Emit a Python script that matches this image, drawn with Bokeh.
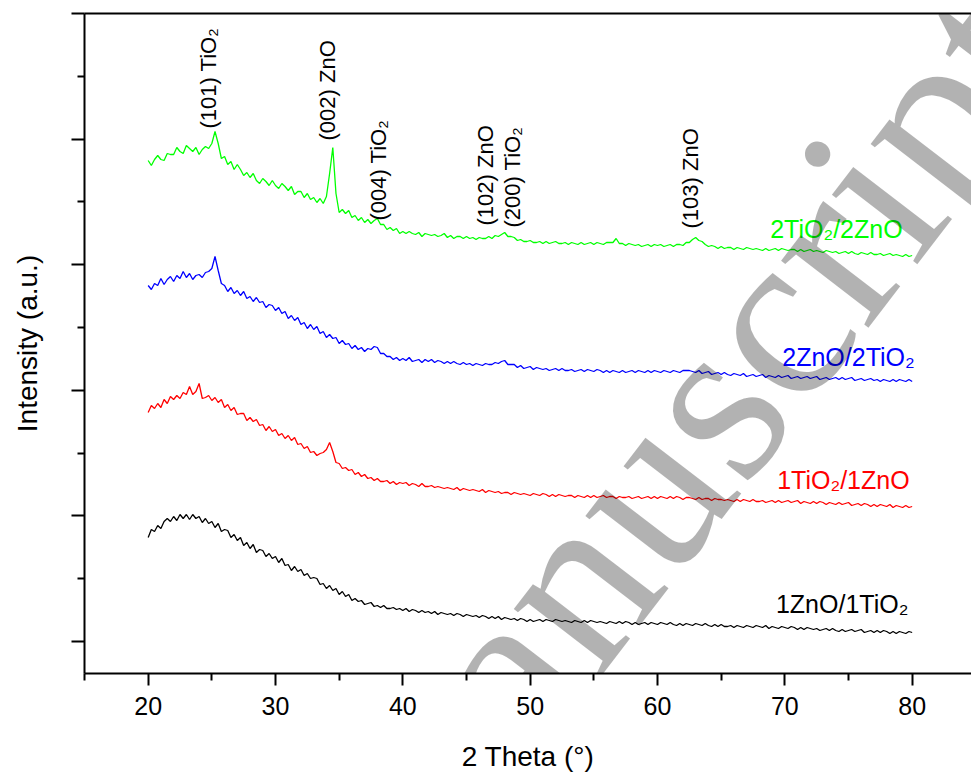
import math
from bokeh.plotting import figure
from bokeh.models import Range1d, FixedTicker, LinearAxis, Label, ColumnDataSource, CustomJSTickFormatter
from bokeh.embed import file_html
from bokeh.resources import INLINE
from bokeh.core.properties import value

# ---------------- data (arbitrary intensity units) ----------------
theta = [20 + 0.25 * i for i in range(241)]   # 2θ sampling, 20° .. 80°

green_2TiO2_2ZnO = [
    513, 508, 514, 518, 514, 513, 520, 519, 519, 526,
    522, 520, 528, 525, 522, 526, 519, 524, 527, 525,
    530, 542, 530, 515, 517, 509, 512, 504, 509, 504,
    498, 501, 496, 500, 493, 490, 495, 492, 488, 493,
    488, 485, 490, 487, 483, 487, 479, 482, 482, 476,
    480, 474, 476, 471, 475, 470, 477, 500, 526, 480,
    461, 464, 460, 463, 456, 458, 453, 456, 451, 454,
    450, 453, 455, 449, 449, 444, 446, 443, 445, 440,
    442, 440, 442, 440, 439, 441, 437, 440, 439, 438,
    439, 437, 438, 440, 436, 438, 435, 437, 437, 435,
    437, 435, 436, 434, 436, 435, 435, 437, 435, 438,
    437, 439, 441, 437, 437, 436, 433, 434, 432, 432,
    433, 431, 431, 432, 430, 432, 430, 431, 432, 430,
    430, 431, 429, 431, 430, 429, 431, 429, 430, 431,
    429, 431, 430, 429, 431, 431, 431, 435, 430, 430,
    428, 430, 429, 428, 429, 427, 428, 429, 427, 429,
    428, 429, 427, 428, 429, 427, 429, 429, 428, 431,
    431, 434, 436, 433, 432, 429, 427, 428, 427, 425,
    427, 425, 426, 426, 424, 426, 425, 424, 426, 425,
    424, 425, 424, 423, 425, 423, 424, 425, 423, 425,
    424, 423, 424, 424, 422, 424, 422, 423, 424, 422,
    423, 422, 421, 423, 422, 421, 422, 420, 421, 422,
    420, 422, 420, 419, 421, 420, 419, 421, 419, 419,
    420, 418, 419, 420, 418, 419, 418, 417, 419, 417,
    418,
]

blue_2ZnO_2TiO2 = [
    388, 384, 390, 388, 395, 389, 394, 397, 392, 398,
    395, 402, 396, 400, 394, 398, 399, 396, 401, 402,
    405, 417, 403, 390, 388, 382, 386, 380, 383, 378,
    382, 375, 377, 372, 376, 371, 372, 366, 369, 368,
    363, 366, 360, 362, 355, 358, 353, 356, 349, 351,
    345, 349, 344, 347, 340, 342, 336, 339, 335, 336,
    330, 333, 329, 330, 325, 328, 324, 326, 322, 325,
    324, 327, 326, 320, 320, 317, 317, 314, 316, 313,
    315, 313, 316, 312, 313, 314, 311, 314, 312, 314,
    311, 313, 312, 310, 312, 310, 312, 310, 309, 311,
    309, 310, 308, 310, 309, 308, 310, 309, 309, 311,
    310, 312, 313, 309, 309, 309, 306, 308, 305, 306,
    307, 304, 306, 305, 304, 305, 303, 304, 305, 303,
    305, 303, 303, 304, 302, 303, 304, 302, 304, 303,
    302, 304, 303, 301, 303, 301, 303, 302, 301, 303,
    301, 302, 303, 301, 303, 302, 301, 303, 301, 303,
    302, 301, 303, 302, 301, 303, 302, 301, 303, 303,
    303, 302, 301, 303, 300, 301, 302, 299, 300, 301,
    299, 301, 299, 298, 300, 299, 298, 300, 297, 298,
    299, 297, 298, 299, 296, 298, 297, 296, 298, 296,
    297, 298, 295, 296, 297, 295, 296, 297, 295, 296,
    297, 294, 295, 296, 294, 295, 296, 294, 296, 294,
    295, 296, 293, 294, 295, 293, 294, 295, 293, 294,
    292, 294, 293, 292, 294, 292, 294, 293, 292, 294,
    292,
]

red_1TiO2_1ZnO = [
    261, 268, 265, 270, 266, 274, 270, 277, 274, 278,
    275, 281, 279, 287, 279, 282, 290, 275, 276, 278,
    273, 276, 271, 274, 266, 269, 263, 266, 259, 260,
    260, 253, 256, 252, 254, 248, 249, 243, 247, 242,
    244, 238, 240, 235, 238, 233, 236, 229, 230, 225,
    227, 221, 222, 218, 220, 221, 224, 231, 222, 211,
    210, 205, 206, 203, 204, 199, 201, 197, 199, 195,
    196, 193, 195, 192, 192, 193, 190, 192, 189, 191,
    190, 191, 188, 190, 189, 187, 190, 187, 187, 188,
    186, 187, 186, 185, 186, 185, 184, 186, 183, 185,
    184, 183, 184, 183, 182, 184, 181, 183, 182, 181,
    182, 180, 181, 181, 179, 181, 180, 179, 180, 179,
    178, 180, 179, 178, 180, 179, 177, 179, 177, 179,
    178, 177, 178, 178, 176, 178, 177, 176, 178, 176,
    178, 176, 177, 178, 176, 177, 177, 175, 177, 176,
    176, 177, 175, 176, 177, 175, 176, 177, 175, 177,
    175, 177, 176, 175, 177, 175, 177, 176, 174, 176,
    176, 175, 174, 176, 174, 175, 175, 173, 175, 174,
    174, 173, 174, 173, 172, 174, 172, 174, 173, 172,
    174, 172, 172, 173, 171, 172, 173, 171, 173, 171,
    172, 173, 171, 172, 173, 170, 172, 171, 170, 172,
    170, 172, 171, 169, 171, 170, 169, 171, 169, 170,
    171, 168, 169, 170, 168, 170, 169, 167, 169, 167,
    169, 168, 167, 169, 166, 168, 167, 166, 168, 166,
    167,
]

black_1ZnO_1TiO2 = [
    136, 144, 142, 148, 145, 152, 155, 152, 157, 153,
    159, 155, 159, 154, 159, 155, 157, 151, 155, 150,
    152, 146, 150, 142, 144, 143, 136, 139, 133, 136,
    128, 131, 125, 129, 121, 124, 123, 117, 120, 115,
    117, 111, 115, 108, 109, 103, 107, 102, 104, 98,
    100, 95, 96, 95, 89, 90, 85, 88, 83, 85,
    79, 82, 77, 79, 73, 75, 72, 73, 69, 70,
    71, 67, 68, 66, 68, 65, 65, 66, 64, 65,
    63, 65, 62, 64, 63, 61, 63, 61, 62, 60,
    62, 59, 61, 60, 59, 60, 58, 60, 59, 57,
    59, 58, 57, 58, 56, 58, 57, 55, 57, 55,
    57, 54, 56, 55, 54, 55, 53, 55, 54, 52,
    54, 52, 53, 54, 52, 54, 53, 52, 54, 53,
    52, 53, 52, 51, 53, 52, 51, 53, 51, 53,
    52, 51, 52, 51, 50, 52, 51, 50, 52, 50,
    52, 51, 49, 51, 49, 50, 51, 49, 51, 50,
    49, 51, 50, 49, 51, 49, 48, 50, 48, 50,
    49, 48, 50, 49, 48, 50, 48, 47, 49, 47,
    49, 47, 47, 48, 46, 48, 47, 46, 48, 47,
    46, 48, 47, 46, 48, 45, 47, 46, 45, 47,
    46, 45, 47, 46, 44, 46, 44, 46, 45, 44,
    45, 43, 44, 45, 43, 45, 43, 42, 44, 42,
    43, 44, 42, 43, 44, 41, 42, 43, 41, 43,
    41, 43, 42, 40, 42, 40, 42, 41, 40, 42,
    41,
]

series_names = ["2TiO₂/2ZnO", "2ZnO/2TiO₂", "1TiO₂/1ZnO", "1ZnO/1TiO₂"]
series_colors = ["#00ff00", "#0000ff", "#ff0000", "#000000"]
series_values = [green_2TiO2_2ZnO, blue_2ZnO_2TiO2, red_1TiO2_1ZnO, black_1ZnO_1TiO2]

peak_names = ["(101) TiO₂", "(002) ZnO", "(004) TiO₂", "(102) ZnO", "(200) TiO₂", "(103) ZnO"]

x_ticks = [20, 30, 40, 50, 60, 70, 80]
x_minor = [15, 25, 35, 45, 55, 65, 75, 85]

# ---------------- layout constants ----------------
peak_label_x = [24.7, 34.06, 38.06, 46.5, 48.6, 62.57]
peak_label_y = [545, 533, 453, 448, 446, 445]
name_label_x = [68.85, 69.8, 69.4, 69.3]
name_label_y = [445, 317, 194, 69.5]
y_major = [32, 157.6, 283.2, 408.8, 534.4, 660]
y_minor = [94.8, 220.4, 346, 471.6, 597.2]

FONT = "Liberation Sans"

p = figure(width=971, height=778,
           x_range=Range1d(15, 84.66), y_range=Range1d(0, 660),
           output_backend="svg", toolbar_location=None,
           min_border_left=84, min_border_right=0, min_border_top=13, min_border_bottom=105,
           x_axis_label="2 Theta (°)", y_axis_label="Intensity (a.u.)")
p.outline_line_color = None
p.xgrid.visible = False
p.ygrid.visible = False
p.background_fill_color = "white"
p.border_fill_color = "white"

# bottom axis
xa = p.xaxis[0]
xa.ticker = FixedTicker(ticks=x_ticks, minor_ticks=x_minor)
xa.axis_line_width = 2
xa.major_tick_line_width = 2
xa.minor_tick_line_width = 2
xa.major_tick_in = 0
xa.major_tick_out = 12
xa.minor_tick_in = 0
xa.minor_tick_out = 7
xa.major_label_text_font = FONT
xa.major_label_text_font_size = "25px"
xa.major_label_text_color = "black"
xa.major_label_standoff = 11
xa.axis_label_text_font = FONT
xa.axis_label_text_font_size = "28px"
xa.axis_label_text_font_style = "normal"
xa.axis_label_text_color = "black"
xa.axis_label_standoff = 23

# left axis (ticks only, no numbers)
ya = p.yaxis[0]
ya.ticker = FixedTicker(ticks=y_major, minor_ticks=y_minor)
ya.formatter = CustomJSTickFormatter(code="return ''")
ya.axis_line_width = 2
ya.major_tick_line_width = 2
ya.minor_tick_line_width = 2
ya.major_tick_in = 0
ya.major_tick_out = 13
ya.minor_tick_in = 0
ya.minor_tick_out = 7
ya.major_label_standoff = 0
ya.axis_label_text_font = FONT
ya.axis_label_text_font_size = "28px"
ya.axis_label_text_font_style = "normal"
ya.axis_label_text_color = "black"
ya.axis_label_standoff = 29

# top frame line
top = LinearAxis(ticker=FixedTicker(ticks=[]), axis_line_width=2,
                 major_tick_line_color=None, minor_tick_line_color=None,
                 major_label_standoff=0)
p.add_layout(top, "above")

# curves
for vals, col in zip(series_values, series_colors):
    p.line(theta, vals, line_color=col, line_width=1.3)

# peak annotations (rotated)
psrc = ColumnDataSource(dict(x=peak_label_x, y=peak_label_y, t=peak_names))
p.text(x="x", y="y", text="t", source=psrc, angle=math.pi / 2,
       text_align="left", text_baseline="middle",
       text_font=value(FONT), text_font_size="22px", text_color="black")

# series names
nsrc = ColumnDataSource(dict(x=name_label_x, y=name_label_y, t=series_names, c=series_colors))
p.text(x="x", y="y", text="t", source=nsrc, text_color="c",
       text_align="left", text_baseline="middle",
       text_font=value(FONT), text_font_size="25px")

# watermark of the source page
wm = Label(x=61.1, y=222, text="Manuscript", angle=math.radians(52.5),
           text_align="center", text_baseline="middle",
           text_font="Liberation Serif", text_font_size="240px",
           text_color="black", text_alpha=0.3, level="overlay")
p.add_layout(wm)

open("out.html", "w").write(file_html(p, INLINE))
